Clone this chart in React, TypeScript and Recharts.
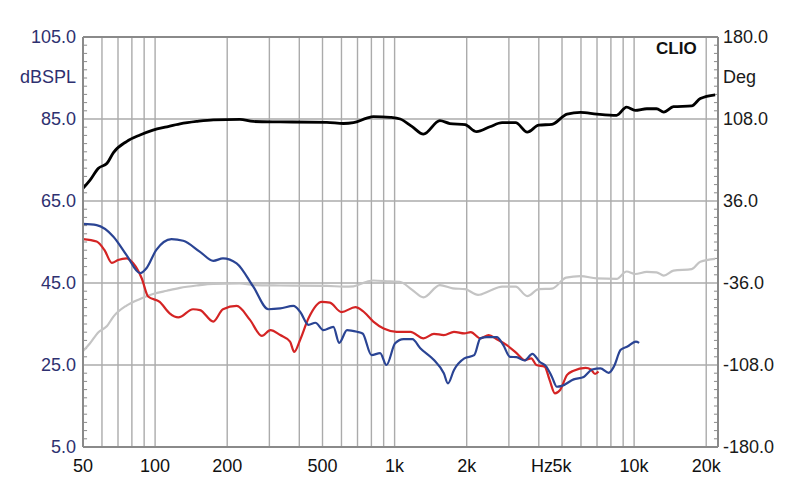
import { LineChart, Line, XAxis, YAxis, ReferenceLine } from 'recharts';

// magnitude curves in dBSPL (left axis), phase in degrees (right axis)
const blackFreq = [50, 53.5, 58, 63, 67, 76, 86.5, 98, 112, 127, 149, 175, 226, 257, 333, 521, 612, 673, 765, 815, 960, 1055, 1180, 1320, 1545, 1700, 1970, 2200, 2500, 2810, 3200, 3580, 4000, 4540, 5250, 5970, 6980, 8450, 9300, 10100, 11300, 12400, 13300, 14600, 17400, 18900, 21800];
const blackDb = [68.1, 70.1, 73.0, 74.2, 76.8, 79.5, 81.1, 82.3, 83.1, 83.8, 84.4, 84.8, 84.9, 84.4, 84.3, 84.2, 83.9, 84.1, 85.2, 85.6, 85.4, 85.0, 83.2, 81.3, 84.6, 83.9, 83.6, 81.9, 83.1, 84.1, 84.1, 81.8, 83.5, 83.7, 86.2, 86.6, 86.2, 85.9, 87.9, 87.1, 87.5, 87.5, 86.7, 88.0, 88.2, 90.0, 90.9];

const phaseFreq = [50, 53.5, 58, 63, 67, 76, 86.5, 98, 112, 127, 149, 175, 226, 257, 333, 521, 612, 673, 765, 815, 960, 1050, 1180, 1320, 1545, 1750, 1970, 2230, 2500, 2810, 3200, 3580, 4000, 4540, 5200, 5970, 6980, 8450, 9300, 10100, 11300, 12400, 13300, 14600, 17400, 18900, 21800];
const phaseDeg = [-95.8, -88.9, -79.2, -73.8, -65.5, -55.8, -50.0, -45.7, -42.8, -40.3, -38.2, -36.7, -36.4, -37.8, -38.2, -38.5, -39.2, -38.9, -34.9, -33.8, -34.6, -34.9, -41.8, -48.6, -37.8, -40.7, -41.4, -46.4, -42.8, -39.2, -39.2, -47.5, -41.4, -41.0, -31.3, -29.9, -32.0, -32.4, -25.9, -28.1, -26.3, -26.6, -29.5, -25.2, -23.8, -17.3, -14.8];

const blueFreq = [50, 57, 67, 76, 86.5, 92, 101, 117, 131, 154, 175, 192, 219, 257, 297, 333, 378, 403, 437, 467, 504, 555, 587, 633, 697, 735, 801, 870, 925, 1005, 1090, 1186, 1280, 1460, 1605, 1670, 1770, 1955, 2150, 2280, 2425, 2670, 2840, 3030, 3230, 3490, 3760, 4030, 4300, 4540, 4760, 4990, 5590, 6160, 6680, 7230, 7840, 8230, 8790, 9380, 10170, 10500];
const blueDb = [59.4, 59.1, 56.3, 51.8, 47.4, 48.6, 53.0, 55.7, 55.3, 52.6, 50.4, 51.0, 49.8, 44.1, 38.6, 38.8, 39.4, 38.0, 34.8, 35.3, 33.5, 34.3, 30.4, 33.5, 33.1, 32.7, 27.4, 27.9, 25.0, 30.3, 31.3, 31.3, 29.1, 26.2, 23.0, 20.5, 23.8, 26.6, 27.4, 31.5, 31.8, 31.8, 29.9, 27.0, 26.9, 26.1, 27.7, 25.8, 24.6, 22.1, 19.7, 19.9, 21.5, 22.1, 23.9, 24.2, 23.1, 24.6, 28.7, 29.5, 30.7, 30.4];

const redFreq = [50, 57, 61.5, 66, 70, 76, 81, 88, 93.5, 104.5, 115, 125, 144, 154, 175, 192, 219, 249, 279, 303, 333, 366, 381, 403, 437, 496, 537, 600, 686, 735, 815, 900, 1020, 1165, 1320, 1460, 1605, 1770, 1955, 2080, 2280, 2470, 2670, 2930, 3230, 3490, 3720, 3910, 4230, 4440, 4670, 4910, 5250, 5590, 6270, 6600, 6870, 7100];
const redDb = [55.7, 55.1, 53.0, 49.9, 50.6, 51.0, 49.8, 46.1, 41.7, 40.4, 37.6, 36.6, 38.6, 38.4, 35.6, 38.6, 39.4, 36.0, 32.1, 33.5, 32.3, 30.7, 28.2, 31.1, 36.4, 40.4, 40.2, 37.9, 39.1, 38.2, 35.6, 33.9, 33.1, 33.1, 31.5, 32.6, 32.3, 33.1, 32.7, 33.0, 31.5, 32.3, 31.3, 29.9, 27.9, 26.2, 26.6, 25.0, 24.6, 21.3, 18.1, 18.9, 22.6, 23.6, 24.3, 23.9, 22.8, 23.4];

const xTicks = [50, 100, 200, 500, 1000, 2000, 5000, 10000, 20000];
const xGrid = [60, 70, 80, 90, 100, 200, 300, 400, 500, 600, 700, 800, 900, 1000, 2000, 3000, 4000, 5000, 6000, 7000, 8000, 9000, 10000, 20000];
const dbTicks = [5, 25, 45, 65, 85, 105];
const dbGrid = [25, 45, 65, 85];
const degTicks = [-180, -108, -36, 36, 108, 180];
const minorDb = [7, 9, 11, 13, 15, 17, 19, 21, 23, 27, 29, 31, 33, 35, 37, 39, 41, 43, 47, 49, 51, 53, 55, 57, 59, 61, 63, 67, 69, 71, 73, 75, 77, 79, 81, 83, 87, 89, 91, 93, 95, 97, 99, 101, 103];

const toPts = (f: number[], v: number[]) => f.map((x, i) => ({ f: x, v: v[i] }));

const FONT = '"Liberation Sans", Arial, sans-serif';
const FS = 18;
const FRAME = '#8a8a8a';
const GRID = '#ababab';
const NAVY = '#2e3070';
const X_MAX = 22400;

function xLabel(v: number) {
  return v >= 1000 ? `${v / 1000}k` : String(v);
}

function XTick({ x, y, payload }: { x?: number; y?: number; payload?: { value: number } }) {
  const v = payload?.value ?? 0;
  return (
    <g>
      <text x={x} y={y} dy="0.71em" textAnchor="middle" fill="#111" fontSize={FS} fontFamily={FONT}>
        {xLabel(v)}
      </text>
      {v === 5000 && (
        <text x={(x ?? 0) - 9} y={y} dy="0.71em" textAnchor="end" fill="#111" fontSize={FS} fontFamily={FONT}>
          Hz
        </text>
      )}
    </g>
  );
}

export default function App() {
  return (
    <div style={{ position: 'relative', width: 800, height: 504, background: '#fff', fontFamily: FONT }}>
      <style>{'body{margin:0}'}</style>
      <LineChart width={800} height={504} margin={{ top: 37, right: 0, bottom: 0, left: 0 }}>
        <XAxis
          dataKey="f"
          type="number"
          scale="log"
          domain={[50, X_MAX]}
          allowDataOverflow
          ticks={xTicks}
          height={57}
          tickSize={0}
          tickMargin={12}
          axisLine={{ stroke: FRAME, strokeWidth: 2 }}
          tick={<XTick />}
        />
        <YAxis
          yAxisId="L"
          type="number"
          domain={[5, 105]}
          allowDataOverflow
          ticks={dbTicks}
          width={83}
          tickSize={0}
          tickMargin={7}
          axisLine={{ stroke: FRAME, strokeWidth: 2 }}
          tickFormatter={(v: number) => v.toFixed(1)}
          tick={{ fill: NAVY, fontSize: FS, fontFamily: FONT }}
        />
        <YAxis
          yAxisId="R"
          orientation="right"
          type="number"
          domain={[-180, 180]}
          allowDataOverflow
          ticks={degTicks}
          width={82}
          tickSize={0}
          tickMargin={5}
          axisLine={{ stroke: FRAME, strokeWidth: 2 }}
          tickFormatter={(v: number) => v.toFixed(1)}
          tick={{ fill: '#1a1a1a', fontSize: FS, fontFamily: FONT }}
        />

        {xGrid.map((v) => (
          <ReferenceLine key={`vx${v}`} yAxisId="L" x={v} stroke={GRID} strokeWidth={1.4} />
        ))}
        {dbGrid.map((v) => (
          <ReferenceLine key={`hy${v}`} yAxisId="L" y={v} stroke={GRID} strokeWidth={1.4} />
        ))}
        {minorDb.map((v) => (
          <ReferenceLine key={`ml${v}`} yAxisId="L" segment={[{ x: 50, y: v }, { x: 52, y: v }]} stroke={FRAME} strokeWidth={1} />
        ))}
        {minorDb.map((v) => (
          <ReferenceLine key={`mr${v}`} yAxisId="L" segment={[{ x: 21550, y: v }, { x: X_MAX, y: v }]} stroke={FRAME} strokeWidth={1} />
        ))}
        <ReferenceLine yAxisId="L" y={105} stroke={FRAME} strokeWidth={2} />

        <Line yAxisId="R" data={toPts(phaseFreq, phaseDeg)} dataKey="v" type="monotone" stroke="#c4c4c4" strokeWidth={2.2} dot={false} isAnimationActive={false} />
        <Line yAxisId="L" data={toPts(blackFreq, blackDb)} dataKey="v" type="monotone" stroke="#000" strokeWidth={2.8} dot={false} isAnimationActive={false} />
        <Line yAxisId="L" data={toPts(redFreq, redDb)} dataKey="v" type="monotone" stroke="#d42424" strokeWidth={2.2} dot={false} isAnimationActive={false} />
        <Line yAxisId="L" data={toPts(blueFreq, blueDb)} dataKey="v" type="monotone" stroke="#2a4494" strokeWidth={2.2} dot={false} isAnimationActive={false} />
      </LineChart>

      <div style={{ position: 'absolute', left: 0, width: 76, top: 67, textAlign: 'right', fontSize: FS, lineHeight: '21px', color: NAVY }}>dBSPL</div>
      <div style={{ position: 'absolute', left: 723, top: 67, fontSize: FS, lineHeight: '21px', color: '#1a1a1a' }}>Deg</div>
      <div style={{ position: 'absolute', left: 656, top: 38, fontSize: 17, lineHeight: '21px', fontWeight: 700, color: '#111' }}>CLIO</div>
    </div>
  );
}
